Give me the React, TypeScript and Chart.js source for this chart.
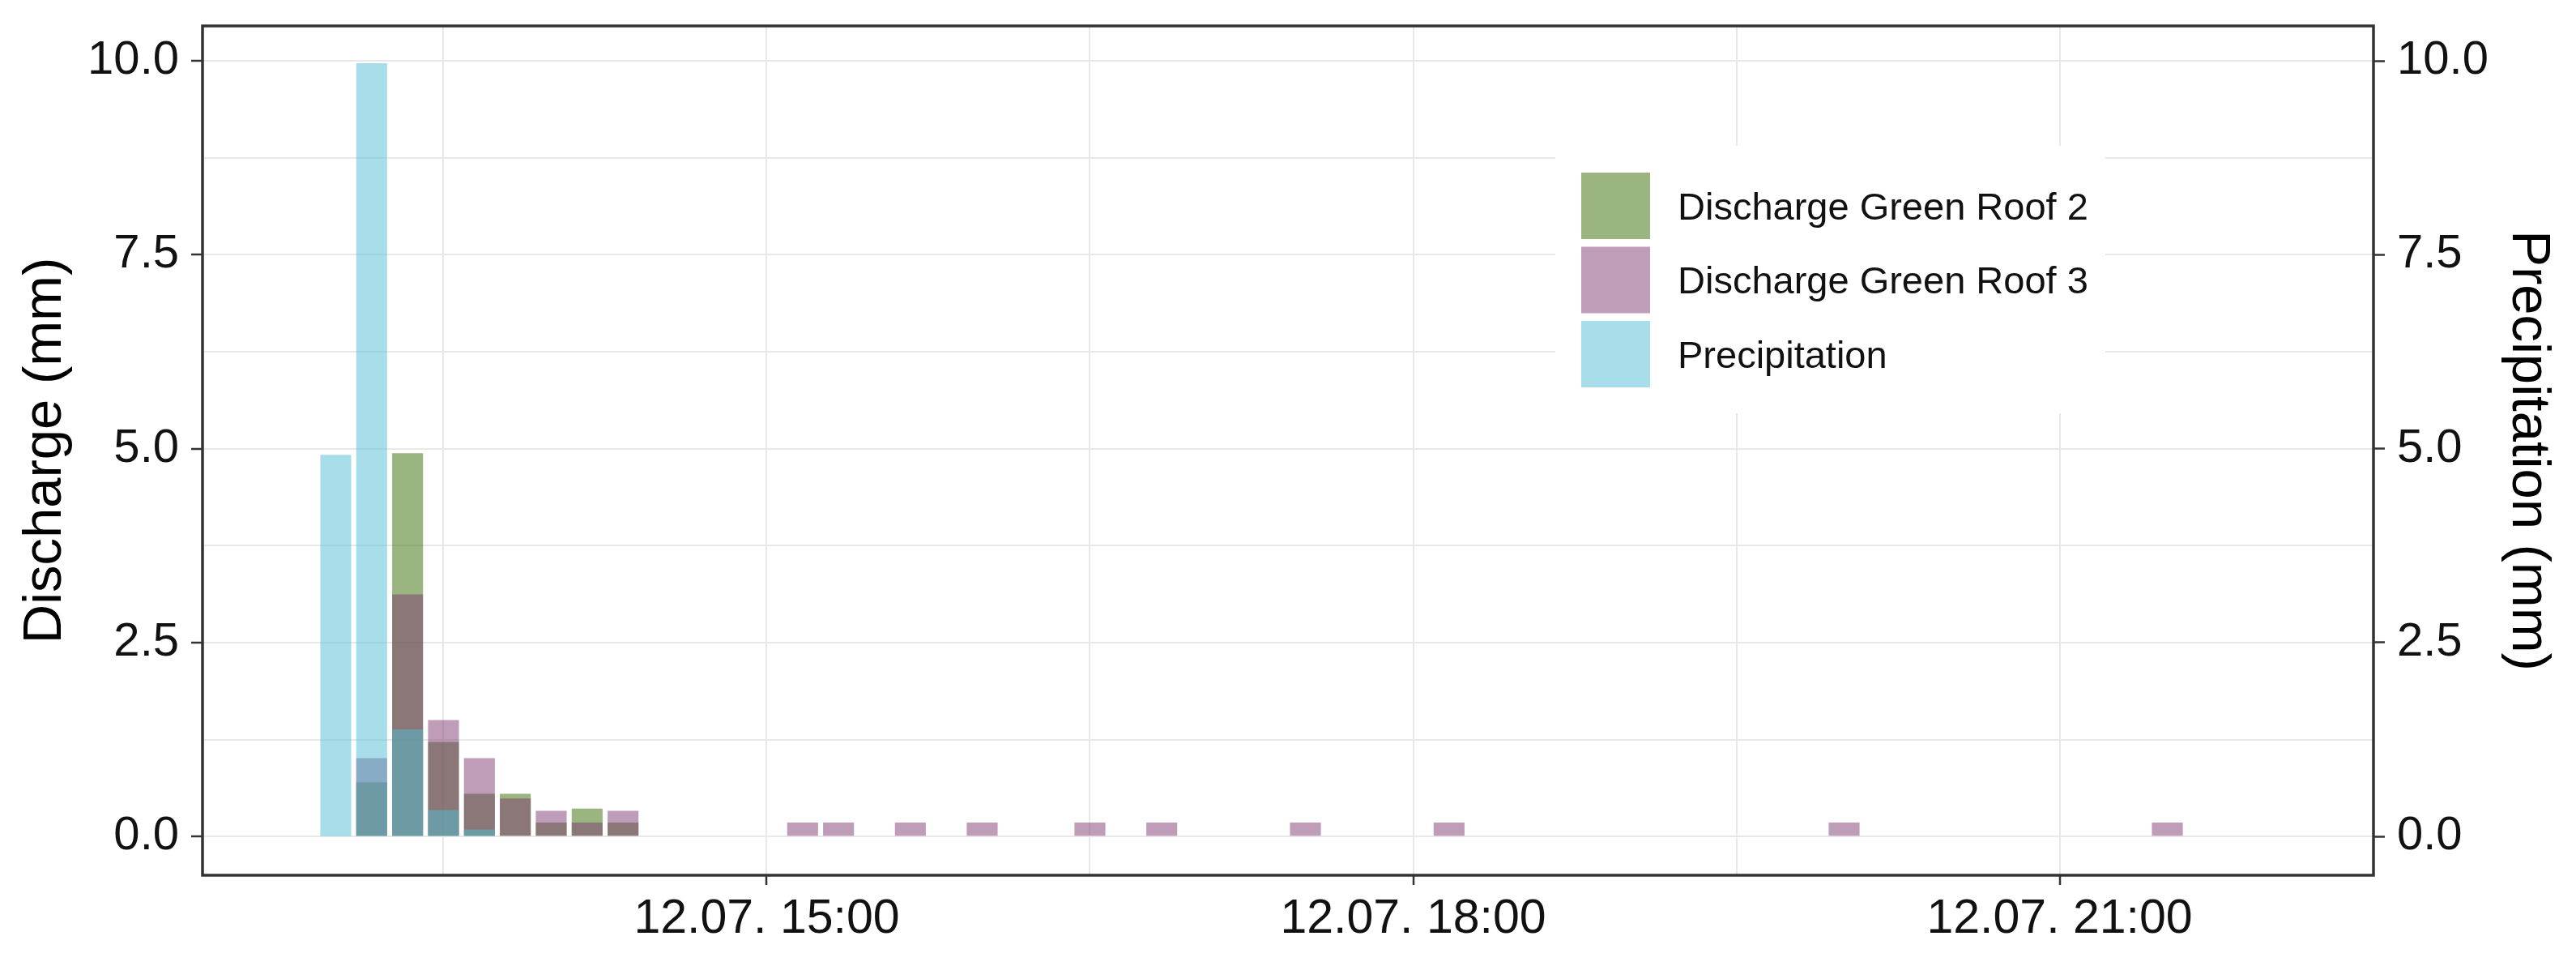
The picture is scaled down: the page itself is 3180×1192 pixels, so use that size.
import { useEffect, useRef } from "react";
import { Chart, registerables } from "chart.js";

Chart.register(...registerables);

// ---------- data ----------
const dayLabel = "12.07.";

const roof2Times = ["13:10", "13:20", "13:30", "13:40", "13:50", "14:00", "14:10", "14:20"];
const roof2Values = [0.7, 4.94, 1.22, 0.55, 0.55, 0.18, 0.36, 0.18];

const roof3Times = [
  "13:10", "13:20", "13:30", "13:40", "13:50", "14:00", "14:10", "14:20",
  "15:10", "15:20", "15:40", "16:00", "16:30", "16:50", "17:30", "18:10", "20:00", "21:30",
];
const roof3Values = [
  1.01, 3.12, 1.5, 1.01, 0.49, 0.33, 0.18, 0.33,
  0.18, 0.18, 0.18, 0.18, 0.18, 0.18, 0.18, 0.18, 0.18, 0.18,
];

const precipTimes = ["13:00", "13:10", "13:20", "13:30", "13:40"];
const precipValues = [4.92, 9.97, 1.38, 0.34, 0.09];

const seriesNames = ["Discharge Green Roof 2", "Discharge Green Roof 3", "Precipitation"];
const seriesColors = ["rgba(53,107,0,0.5)", "rgba(127,57,113,0.5)", "rgba(81,189,213,0.5)"];

// axis ranges (minutes after midnight for x)
const xAxisStart = 742.9;
const xAxisEnd = 1347.4;
const xStep = 90;
const xLabelEvery = 180;
const yAxisMin = -0.5;
const yAxisMax = 10.45;
const yStep = 1.25;
const yLabelEvery = 2.5;

const yTitleLeft = "Discharge (mm)";
const yTitleRight = "Precipitation (mm)";

// ---------- helpers ----------
const toMinutes = (t: string) => {
  const [h, m] = t.split(":").map(Number);
  return h * 60 + m;
};
const toPoints = (times: string[], values: number[]) =>
  times.map((t, i) => ({ x: toMinutes(t), y: values[i] }));

const isMultiple = (v: number, step: number) => Math.abs(v / step - Math.round(v / step)) < 1e-6;

const FONT = "'Liberation Sans', Arial, sans-serif";
const GRID = "#E8E8E8";
const DARK = "#333333";

const panelPlugin = {
  id: "panelAndLegend",
  afterDraw(chart: any) {
    const { ctx, chartArea } = chart;
    const { left, right, top, bottom } = chartArea;
    ctx.save();
    // legend box
    const bx = 1920, by = 180, bw = 679, bh = 330;
    ctx.fillStyle = "#ffffff";
    ctx.fillRect(bx, by, bw, bh);
    const keyX = 1952, keyW = 85, keyH = 82, keyTop0 = 213, pitch = 91.5;
    ctx.font = `47px ${FONT}`;
    ctx.textBaseline = "middle";
    ctx.textAlign = "left";
    seriesNames.forEach((name, i) => {
      const ky = keyTop0 + i * pitch;
      ctx.fillStyle = seriesColors[i];
      ctx.fillRect(keyX, ky, keyW, keyH);
      ctx.fillStyle = "#111111";
      ctx.fillText(name, 2071, ky + keyH / 2 + 4);
    });
    // panel border
    ctx.strokeStyle = DARK;
    ctx.lineWidth = 3.5;
    ctx.strokeRect(left, top, right - left, bottom - top);
    ctx.restore();
  },
};

export default function App() {
  const ref = useRef<HTMLCanvasElement | null>(null);

  useEffect(() => {
    if (!ref.current) return;
    const tickFont = { family: FONT, size: 58 };
    const xTickFont = { family: FONT, size: 59 };
    const titleFont = { family: FONT, size: 67 };

    const yTickCb = (v: any) => (isMultiple(Number(v), yLabelEvery) ? Number(v).toFixed(1) : "");
    const yTickColor = (c: any) => (c.tick && isMultiple(c.tick.value, yLabelEvery) ? DARK : "rgba(0,0,0,0)");
    const fitY = (s: any) => {
      s.width = 250;
      s.paddingTop = 0;
      s.paddingBottom = 0;
    };

    const chart = new Chart(ref.current, {
      type: "bar",
      data: {
        datasets: [
          {
            label: seriesNames[0],
            data: toPoints(roof2Times, roof2Values),
            backgroundColor: seriesColors[0],
            borderWidth: 0,
            grouped: false,
            order: 3,
            yAxisID: "y",
          },
          {
            label: seriesNames[1],
            data: toPoints(roof3Times, roof3Values),
            backgroundColor: seriesColors[1],
            borderWidth: 0,
            grouped: false,
            order: 2,
            yAxisID: "y",
          },
          {
            label: seriesNames[2],
            data: toPoints(precipTimes, precipValues),
            backgroundColor: seriesColors[2],
            borderWidth: 0,
            grouped: false,
            order: 1,
            yAxisID: "y2",
          },
        ] as any,
      },
      options: {
        animation: false,
        responsive: false,
        devicePixelRatio: 1,
        layout: { padding: { top: 32, left: 0, right: 0, bottom: 0 } },
        datasets: { bar: { categoryPercentage: 1, barPercentage: 0.86 } } as any,
        plugins: {
          legend: { display: false },
          tooltip: { enabled: false },
        },
        scales: {
          x: {
            type: "linear",
            min: xAxisStart,
            max: xAxisEnd,
            offset: false,
            border: { display: false },
            grid: {
              offset: false,
              color: GRID,
              lineWidth: 2,
              drawTicks: true,
              tickLength: 12,
              tickWidth: 2.5,
              tickColor: (c: any) => (c.tick && isMultiple(c.tick.value, xLabelEvery) ? DARK : "rgba(0,0,0,0)"),
            },
            ticks: {
              stepSize: xStep,
              includeBounds: false,
              autoSkip: false,
              maxRotation: 0,
              padding: 7,
              color: "#111111",
              font: xTickFont,
              callback: (v: any) => {
                const n = Number(v);
                if (!isMultiple(n, xLabelEvery)) return "";
                const h = String(Math.round(n / 60)).padStart(2, "0");
                return `${dayLabel} ${h}:00`;
              },
            },
            afterFit: (s: any) => {
              s.height = 112;
              s.paddingLeft = 0;
              s.paddingRight = 0;
            },
          } as any,
          y: {
            type: "linear",
            position: "left",
            min: yAxisMin,
            max: yAxisMax,
            border: { display: false },
            grid: {
              color: GRID,
              lineWidth: 2,
              tickLength: 14,
              tickWidth: 2.5,
              tickColor: yTickColor,
            },
            ticks: {
              stepSize: yStep,
              includeBounds: false,
              autoSkip: false,
              padding: 15,
              color: "#111111",
              font: tickFont,
              callback: yTickCb,
            },
            title: {
              display: true,
              text: yTitleLeft,
              color: "#000000",
              font: titleFont,
              padding: { top: 16, bottom: 0 },
            },
            afterFit: fitY,
          } as any,
          y2: {
            type: "linear",
            position: "right",
            min: yAxisMin,
            max: yAxisMax,
            border: { display: false },
            grid: {
              drawOnChartArea: false,
              tickLength: 14,
              tickWidth: 2.5,
              tickColor: yTickColor,
            },
            ticks: {
              stepSize: yStep,
              includeBounds: false,
              autoSkip: false,
              padding: 15,
              color: "#111111",
              font: tickFont,
              callback: yTickCb,
            },
            title: {
              display: true,
              text: yTitleRight,
              color: "#000000",
              font: titleFont,
              padding: { top: 19, bottom: 0 },
            },
            afterFit: fitY,
          } as any,
        },
      },
      plugins: [panelPlugin],
    });

    return () => chart.destroy();
  }, []);

  return (
    <div style={{ position: "absolute", left: 0, top: 0, width: 3180, height: 1192, background: "#ffffff" }}>
      <canvas ref={ref} width={3180} height={1192} style={{ width: 3180, height: 1192, display: "block" }} />
    </div>
  );
}
